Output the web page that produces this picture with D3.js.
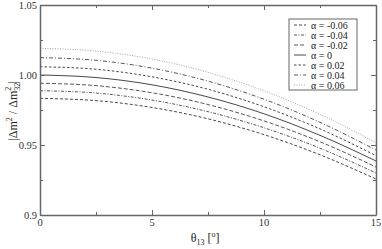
<!DOCTYPE html>
<html>
<head>
<meta charset="utf-8">
<script src="https://cdn.jsdelivr.net/npm/d3@7"></script>
<style>
  body { margin: 0; background: #fff; }
  svg text { font-family: "Liberation Serif", serif; }
</style>
</head>
<body>
<script>
// theta_13 in degrees
var thetas = [0, 2.5, 5, 7.5, 10, 12.5, 15];
var alphas = ["-0.06", "-0.04", "-0.02", "0", "0.02", "0.04", "0.06"];
// |dm^2 / dm32^2|, one row per alpha
var ratioM06 = [0.9833, 0.9817, 0.9768, 0.9687, 0.9574, 0.9430, 0.9257];
var ratioM04 = [0.9888, 0.9871, 0.9821, 0.9738, 0.9623, 0.9477, 0.9300];
var ratioM02 = [0.9941, 0.9924, 0.9873, 0.9789, 0.9672, 0.9523, 0.9343];
var ratio0   = [1.0000, 0.9982, 0.9930, 0.9843, 0.9723, 0.9569, 0.9386];
var ratioP02 = [1.0059, 1.0041, 0.9987, 0.9898, 0.9773, 0.9615, 0.9424];
var ratioP04 = [1.0124, 1.0105, 1.0049, 0.9956, 0.9827, 0.9662, 0.9464];
var ratioP06 = [1.0190, 1.0171, 1.0114, 1.0019, 0.9887, 0.9719, 0.9516];
var xTicks = [0, 5, 10, 15];
var yTicks = [0.9, 0.95, 1.0, 1.05];

var series = [ratioM06, ratioM04, ratioM02, ratio0, ratioP02, ratioP04, ratioP06];
var dashes = ["3,2", "3,1.5,1,1.5", "4,2", null, "2.5,2", "4,2,1,2", "1,1.5"];
var strokes = ["#333", "#444", "#444", "#333", "#333", "#444", "#999"];

var W = 382, H = 249;
var m = {left: 40, right: 6, top: 5, bottom: 34};

var svg = d3.select("body").append("svg")
    .attr("width", W)
    .attr("height", H);

var x = d3.scaleLinear().domain([0, 15]).range([m.left, W - m.right]);
var y = d3.scaleLinear().domain([0.9, 1.05]).range([H - m.bottom, m.top]);

var line = d3.line()
    .x(function(d, i) { return x(thetas[i]); })
    .y(function(d) { return y(d); })
    .curve(d3.curveMonotoneX);

svg.selectAll("path.curve")
    .data(series)
    .enter().append("path")
    .attr("class", "curve")
    .attr("d", line)
    .attr("fill", "none")
    .attr("stroke", function(d, i) { return strokes[i]; })
    .attr("stroke-width", 0.9)
    .attr("stroke-dasharray", function(d, i) { return dashes[i]; });

// frame with inward ticks on all four sides
var axisColor = "#666";
var xMinor = [2.5, 7.5, 12.5], yMinor = [0.925, 0.975, 1.025];

function tickAxis(axis, pos, major, minor) {
    var g = svg.append("g").attr("transform", pos).call(axis.tickValues(major.concat(minor)));
    g.select(".domain").attr("stroke", axisColor).attr("stroke-width", 1.5);
    g.selectAll(".tick line").attr("stroke", axisColor)
        .each(function(d) {
            var n = minor.indexOf(d) >= 0 ? 3 : 5;
            var el = d3.select(this);
            if (el.attr("x2") !== null && +el.attr("x2") !== 0) el.attr("x2", +el.attr("x2") > 0 ? n : -n);
            if (el.attr("y2") !== null && +el.attr("y2") !== 0) el.attr("y2", +el.attr("y2") > 0 ? n : -n);
        });
    return g;
}

tickAxis(d3.axisBottom(x).tickSizeInner(-6).tickSizeOuter(0).tickFormat(""),
    "translate(0," + (H - m.bottom) + ")", xTicks, xMinor);
tickAxis(d3.axisTop(x).tickSizeInner(-6).tickSizeOuter(0).tickFormat(""),
    "translate(0," + m.top + ")", xTicks, xMinor);
tickAxis(d3.axisLeft(y).tickSizeInner(-6).tickSizeOuter(0).tickFormat(""),
    "translate(" + m.left + ",0)", yTicks, yMinor);
tickAxis(d3.axisRight(y).tickSizeInner(-6).tickSizeOuter(0).tickFormat(""),
    "translate(" + (W - m.right) + ",0)", yTicks, yMinor);

// tick labels
svg.selectAll("text.xl").data(xTicks).enter().append("text")
    .attr("x", function(d) { return x(d); })
    .attr("y", H - m.bottom + 11)
    .attr("text-anchor", "middle")
    .attr("font-size", 10.5)
    .attr("fill", "#333")
    .text(function(d) { return d; });

svg.selectAll("text.yl").data(yTicks).enter().append("text")
    .attr("x", m.left - 3)
    .attr("y", function(d) { return y(d) + 3.5; })
    .attr("text-anchor", "end")
    .attr("font-size", 10.5)
    .attr("fill", "#333")
    .text(function(d) { return d === 0.9 ? "0.9" : d3.format(".2f")(d); });

// axis titles
var xt = svg.append("text")
    .attr("x", 205).attr("y", 242)
    .attr("text-anchor", "middle")
    .attr("font-size", 12)
    .attr("fill", "#222");
xt.append("tspan").text("θ");
xt.append("tspan").attr("font-size", 8).attr("dy", 3).text("13");
xt.append("tspan").attr("dy", -3).text(" [");
xt.append("tspan").attr("font-size", 8).attr("dy", -5).text("o");
xt.append("tspan").attr("dy", 5).text("]");

var yt = svg.append("text")
    .attr("transform", "translate(17,111) rotate(-90)")
    .attr("text-anchor", "middle")
    .attr("font-size", 12)
    .attr("fill", "#222");
yt.append("tspan").text("|Δm");
yt.append("tspan").attr("font-size", 8).attr("dy", -5).text("2");
yt.append("tspan").attr("dy", 5).text(" / Δm");
yt.append("tspan").attr("font-size", 8).attr("dy", 3).text("32");
yt.append("tspan").attr("font-size", 8).attr("dy", -9).attr("dx", -8).text("2");
yt.append("tspan").attr("dy", 6).attr("dx", 3).text("|");

// legend
var lg = svg.append("g").attr("transform", "translate(289,19)");
lg.append("rect")
    .attr("width", 68).attr("height", 71)
    .attr("fill", "#fff")
    .attr("stroke", axisColor);
var rows = lg.selectAll("g.row").data(alphas).enter().append("g")
    .attr("transform", function(d, i) { return "translate(0," + (6 + i * 10) + ")"; });
rows.append("line")
    .attr("x1", 5).attr("x2", 17)
    .attr("stroke", function(d, i) { return strokes[i]; })
    .attr("stroke-width", 0.9)
    .attr("stroke-dasharray", function(d, i) { return dashes[i]; });
rows.append("text")
    .attr("x", 22).attr("y", 3.5)
    .attr("font-size", 10)
    .attr("fill", "#222")
    .text(function(d) { return "α = " + d; });
</script>
</body>
</html>
